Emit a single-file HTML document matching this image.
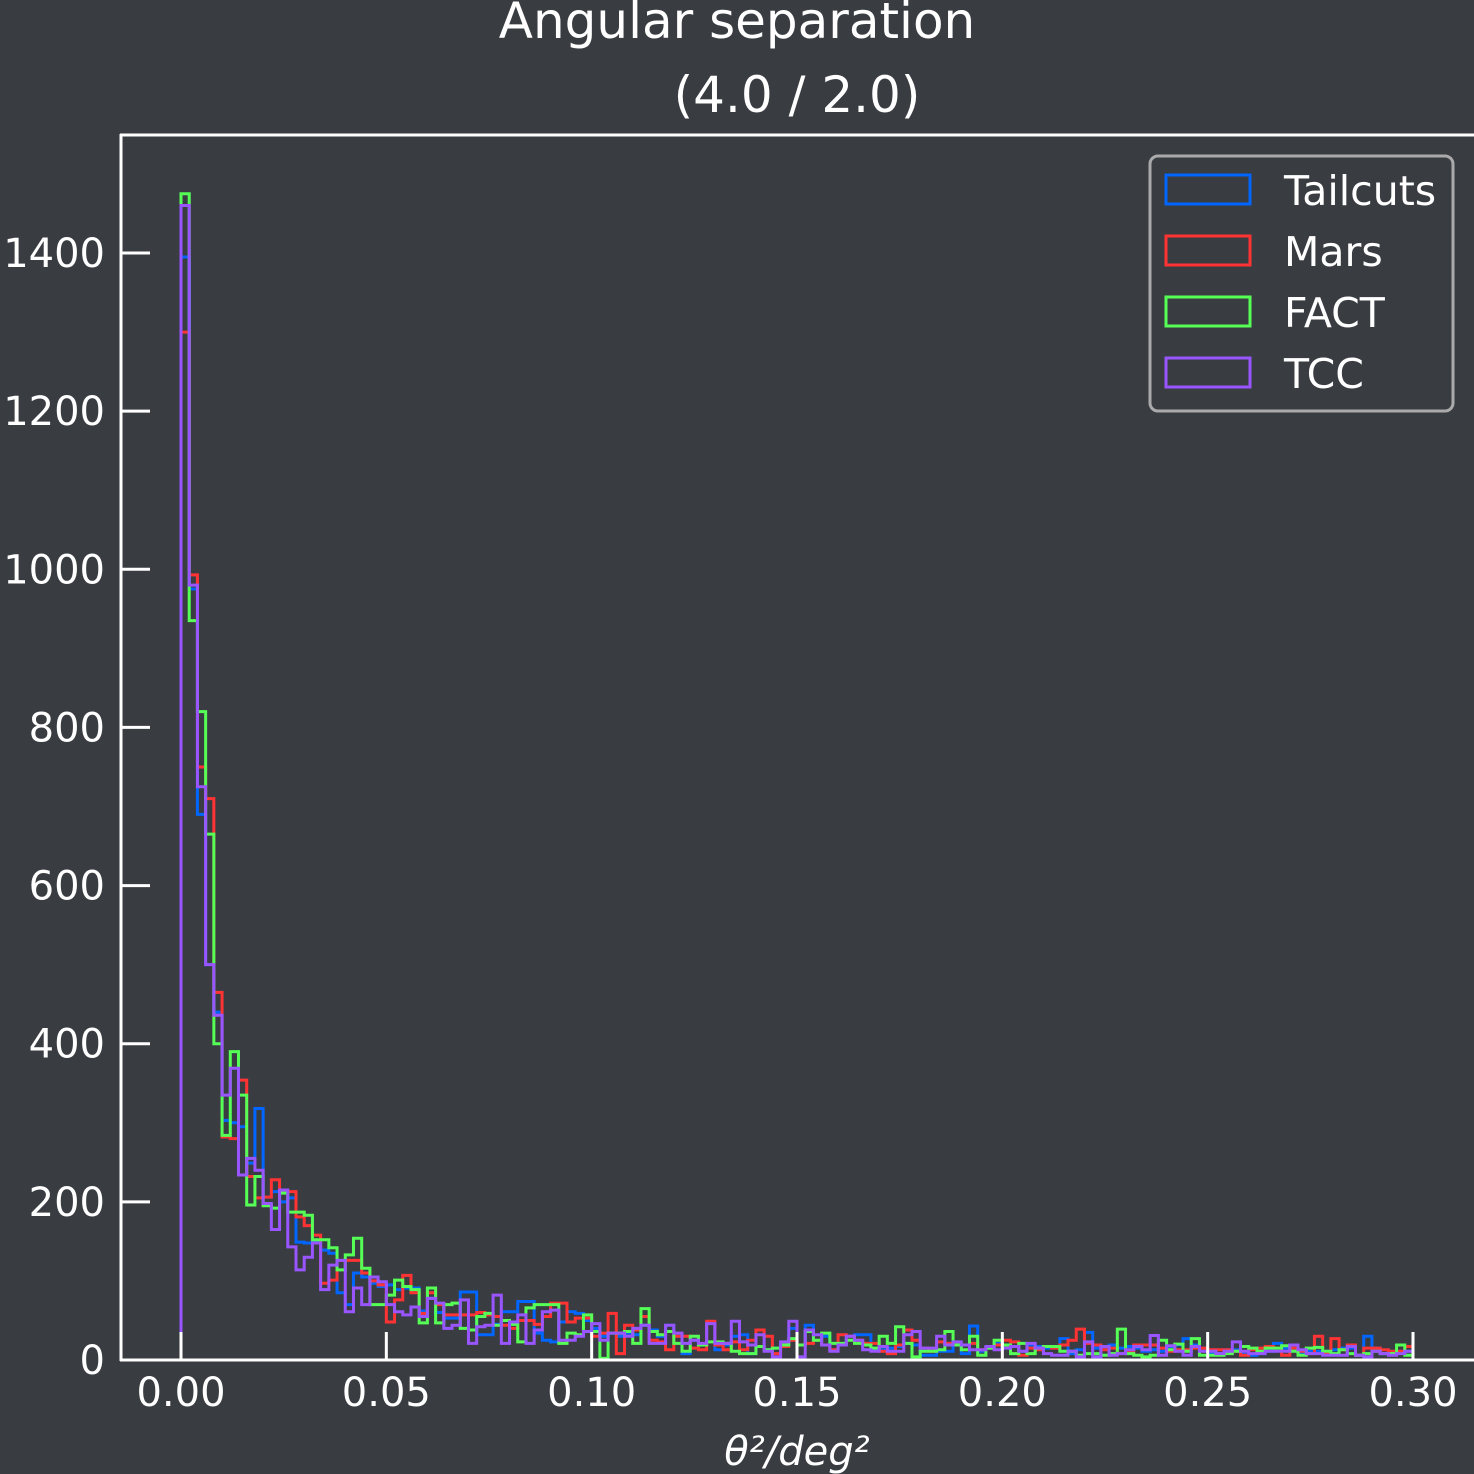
<!DOCTYPE html>
<html><head><meta charset="utf-8"><style>
html,body{margin:0;padding:0;background:#393c41;}
svg{display:block;font-family:"DejaVu Sans","Liberation Sans",sans-serif;}
</style></head><body>
<svg id="chart" width="1474" height="1474" viewBox="0 0 1474 1474">
<rect x="0" y="0" width="1474" height="1474" fill="#393c41"/>
<text x="737" y="38" font-size="50" fill="#fff" text-anchor="middle">Angular separation</text>
<text x="797" y="112" font-size="50" fill="#fff" text-anchor="middle">(4.0 / 2.0)</text>
<g id="series"></g>
<g id="axes"></g>
<text x="797" y="1465" font-size="40" fill="#fff" text-anchor="middle" font-style="italic">θ²/deg²</text>
<g>
<rect x="1150" y="156" width="303" height="255" rx="8" fill="#393c41" stroke="#aaaaaa" stroke-width="3"/>
<g><rect x="1166" y="175" width="84" height="29" fill="none" stroke="#0066ff" stroke-width="3"/><text x="1284" y="205" font-size="41" fill="#fff">Tailcuts</text></g>
<g><rect x="1166" y="236" width="84" height="29" fill="none" stroke="#ff3333" stroke-width="3"/><text x="1284" y="266" font-size="41" fill="#fff">Mars</text></g>
<g><rect x="1166" y="297" width="84" height="29" fill="none" stroke="#55ff55" stroke-width="3"/><text x="1284" y="327" font-size="41" fill="#fff">FACT</text></g>
<g><rect x="1166" y="358" width="84" height="29" fill="none" stroke="#9955ff" stroke-width="3"/><text x="1284" y="388" font-size="41" fill="#fff">TCC</text></g>
</g>
</svg>
<script>
const binStart = 0.0;
const binWidth = 0.002;
const xTicks = [0.00, 0.05, 0.10, 0.15, 0.20, 0.25, 0.30];
const xTickLabels = ["0.00","0.05","0.10","0.15","0.20","0.25","0.30"];
const yTicks = [0, 200, 400, 600, 800, 1000, 1200, 1400];
const yTickLabels = ["0","200","400","600","800","1000","1200","1400"];
const seriesNames = ["Tailcuts","Mars","FACT","TCC"];
const tailcuts = [1395,975,690,500,440,303,300,295,249,318,206,213,200,205,149,148,151,139,135,85,70,110,105,97,93,95,89,91,91,62,78,60,53,53,86,86,32,32,45,61,61,74,74,34,25,23,48,61,
59,50,40,30,34,30,34,32,44,38,30,44,30,8,25,19,46,13,19,30,32,8,17,13,15,19,40,19,44,25,30,13,19,30,32,
32,13,13,15,17,21,19,6,6,11,11,19,8,43,11,15,21,19,17,11,19,17,15,17,27,8,13,35,15,15,19,15,17,15,11,
13,11,17,19,27,19,15,8,8,13,13,8,6,8,11,21,15,13,8,11,11,11,13,15,15,6,30,15,8,11,11,11];
const mars = [1300,993,750,710,465,282,280,354,232,205,206,228,213,213,181,170,158,97,101,126,126,126,110,100,95,48,76,107,85,59,85,70,57,57,57,57,60,57,55,44,40,50,50,45,55,72,72,48,
53,53,30,34,59,8,44,38,55,25,23,13,30,30,15,13,49,19,13,23,13,25,38,30,8,17,25,19,21,25,19,13,32,30,25,
21,21,11,8,19,38,25,15,11,23,21,19,19,21,13,15,19,25,23,6,15,13,17,15,19,25,39,21,19,13,15,8,11,19,19,
19,15,11,13,13,15,15,13,13,13,11,6,13,15,17,15,6,15,11,8,30,8,27,13,19,6,15,15,13,11,11,17];
const fact = [1475,935,820,665,400,284,390,335,196,232,195,192,211,187,187,183,152,152,142,114,133,154,116,70,70,82,101,93,89,47,91,47,70,72,40,38,55,59,44,50,45,23,66,70,70,70,21,34,
32,57,36,2,34,34,36,21,65,36,32,36,21,11,30,19,23,23,21,11,8,8,17,13,15,19,27,19,36,25,34,21,21,25,21,
19,15,30,21,42,21,4,11,11,13,36,19,13,30,6,15,25,19,8,21,8,15,17,17,11,11,6,8,8,6,8,39,8,6,4,
6,25,13,20,11,27,6,6,6,8,11,17,15,11,15,15,18,11,6,15,16,11,8,13,8,6,8,11,8,8,19,6];
const tcc = [1460,980,725,500,436,335,369,234,255,240,198,165,215,143,114,130,148,89,120,126,61,91,70,105,99,70,61,57,67,55,78,72,40,44,76,21,42,44,82,21,48,57,21,38,61,63,25,25,
30,36,46,25,34,34,30,40,44,21,21,44,34,21,25,21,46,21,21,49,23,19,32,11,4,23,49,4,38,32,19,11,19,30,25,
13,11,17,11,11,32,36,15,15,30,19,23,19,13,13,17,13,15,17,11,21,15,8,6,6,11,4,23,4,17,6,8,13,17,13,
31,6,18,11,6,17,11,11,8,11,23,11,8,8,11,11,11,19,13,8,8,6,6,6,17,6,4,11,8,6,8,11];

const NS = "http://www.w3.org/2000/svg";
function xs(v){ return 181 + (v - 0) / 0.30 * (1413 - 181); }
function ys(v){ return 1360 - v / 1400 * (1360 - 253); }

const seriesG = document.getElementById('series');
const colors = ["#0066ff","#ff3333","#55ff55","#9955ff"];
const allSeries = [tailcuts, mars, fact, tcc];
const seriesKeys = ["tailcuts","mars","fact","tcc"];
allSeries.forEach(function(vals, si){
  let d = "M" + xs(binStart) + "," + ys(0);
  for (let i = 0; i < vals.length; i++) {
    const x0 = xs(binStart + i * binWidth), x1 = xs(binStart + (i + 1) * binWidth);
    d += " L" + x0 + "," + ys(vals[i]) + " L" + x1 + "," + ys(vals[i]);
  }
  d += " L" + xs(binStart + vals.length * binWidth) + "," + ys(0);
  const p = document.createElementNS(NS, 'path');
  p.setAttribute('d', d);
  p.setAttribute('fill', 'none');
  p.setAttribute('stroke', colors[si]);
  p.setAttribute('stroke-width', '3');
  p.setAttribute('stroke-linejoin', 'miter');
  
  
  seriesG.appendChild(p);
});

const axesG = document.getElementById('axes');
function line(x1,y1,x2,y2,name){
  const l = document.createElementNS(NS,'line');
  l.setAttribute('x1',x1); l.setAttribute('y1',y1); l.setAttribute('x2',x2); l.setAttribute('y2',y2);
  l.setAttribute('stroke','#fff'); l.setAttribute('stroke-width','3');
  
  
  axesG.appendChild(l);
}
line(121,134,121,1361,'left-spine');
line(120,1360,1474,1360,'bottom-spine');
line(120,135,1474,135,'top-spine');
xTicks.forEach(function(t, i){
  line(xs(t),1360,xs(t),1332,'x-tick');
  const tx = document.createElementNS(NS,'text');
  tx.setAttribute('x', xs(t)); tx.setAttribute('y', 1406);
  tx.setAttribute('font-size','40'); tx.setAttribute('fill','#fff'); tx.setAttribute('text-anchor','middle');
  
  
  tx.textContent = xTickLabels[i];
  axesG.appendChild(tx);
});
yTicks.forEach(function(t, i){
  line(121,ys(t),150,ys(t),'y-tick');
  const tx = document.createElementNS(NS,'text');
  tx.setAttribute('x', 105); tx.setAttribute('y', ys(t) + 14);
  tx.setAttribute('font-size','40'); tx.setAttribute('fill','#fff'); tx.setAttribute('text-anchor','end');
  
  
  tx.textContent = yTickLabels[i];
  axesG.appendChild(tx);
});
</script>
</body></html>
